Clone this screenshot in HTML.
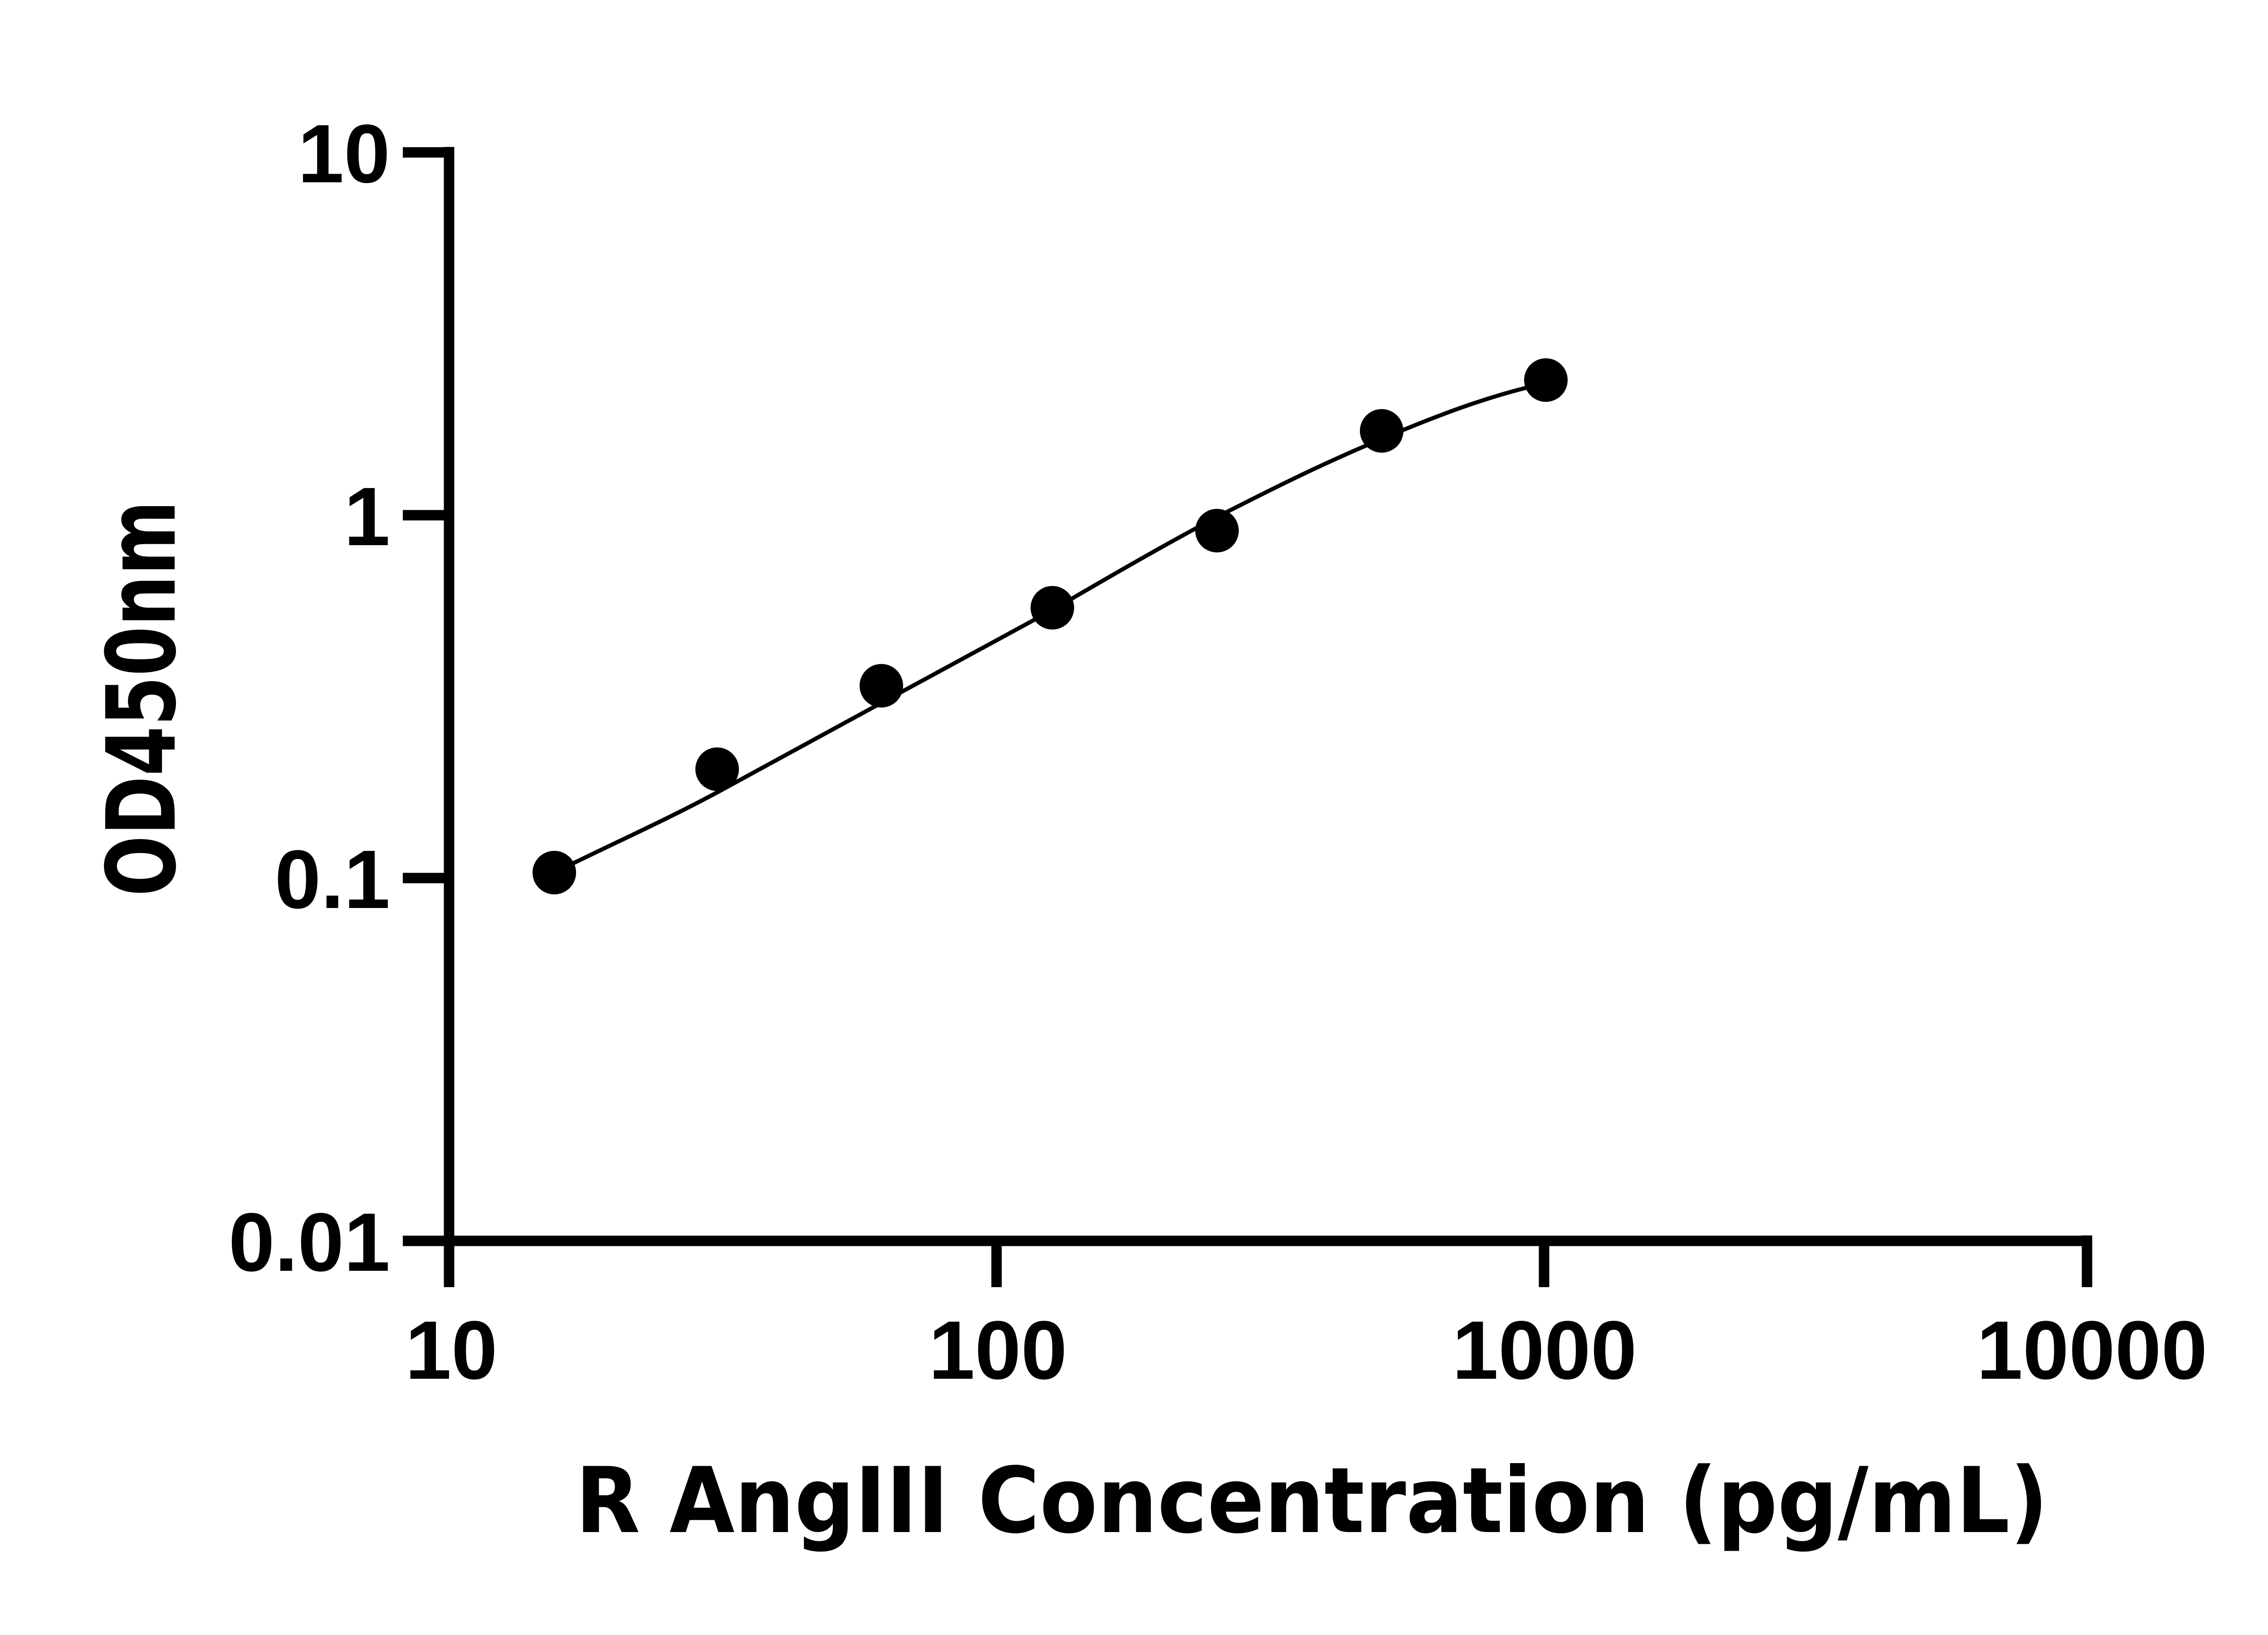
<!DOCTYPE html>
<html><head><style>html,body{margin:0;padding:0;background:#fff}</style></head>
<body>
<svg width="5142" height="3600" viewBox="0 0 5142 3600" xmlns="http://www.w3.org/2000/svg">
<rect width="5142" height="3600" fill="#fff"/>
<g stroke="#000" stroke-width="23" fill="none" stroke-linecap="butt">
<line x1="990" y1="324" x2="990" y2="2748"/>
<line x1="979" y1="2736" x2="4612" y2="2736"/>
<line x1="888" y1="336" x2="1001" y2="336"/>
<line x1="888" y1="1136" x2="1001" y2="1136"/>
<line x1="888" y1="1936" x2="1001" y2="1936"/>
<line x1="888" y1="2736" x2="1001" y2="2736"/>
<line x1="990" y1="2736" x2="990" y2="2838"/>
<line x1="2197" y1="2736" x2="2197" y2="2838"/>
<line x1="3404" y1="2736" x2="3404" y2="2838"/>
<line x1="4601" y1="2724" x2="4601" y2="2838"/>
</g>
<g font-family="Liberation Sans, Arial, sans-serif" font-weight="bold" font-size="183" fill="#000">
<text x="860" y="402" text-anchor="end">10</text>
<text x="860" y="1202" text-anchor="end">1</text>
<text x="860" y="2002" text-anchor="end">0.1</text>
<text x="860" y="2802" text-anchor="end">0.01</text>
<text x="995" y="3040" text-anchor="middle">10</text>
<text x="2200" y="3040" text-anchor="middle">100</text>
<text x="3405" y="3040" text-anchor="middle">1000</text>
<text x="4612" y="3040" text-anchor="middle">10000</text>
</g>
<text x="2892" y="3378" text-anchor="middle" font-family="DejaVu Sans, Liberation Sans, sans-serif" font-weight="bold" font-size="200" textLength="3247" lengthAdjust="spacingAndGlyphs">R AngIII Concentration (pg/mL)</text>
<text transform="translate(385,1540) rotate(-90)" text-anchor="middle" font-family="DejaVu Sans, Liberation Sans, sans-serif" font-weight="bold" font-size="210" textLength="873" lengthAdjust="spacingAndGlyphs">OD450nm</text>
<path d="M1222,1924 C1340,1865 1465,1810 1585,1745 C1705,1680 1825,1615 1950,1546 C2075,1478 2200,1410 2320,1345 C2440,1275 2560,1205 2683,1140 C2800,1080 2920,1020 3046,968 C3170,915 3290,870 3408,845" stroke="#000" stroke-width="9" fill="none"/>
<g fill="#000">
<circle cx="1222" cy="1924" r="48"/>
<circle cx="1581" cy="1696" r="48"/>
<circle cx="1943" cy="1512" r="48"/>
<circle cx="2320" cy="1340" r="48"/>
<circle cx="2683" cy="1170" r="48"/>
<circle cx="3046" cy="950" r="48"/>
<circle cx="3408" cy="838" r="48"/>
</g>
</svg>
</body></html>
